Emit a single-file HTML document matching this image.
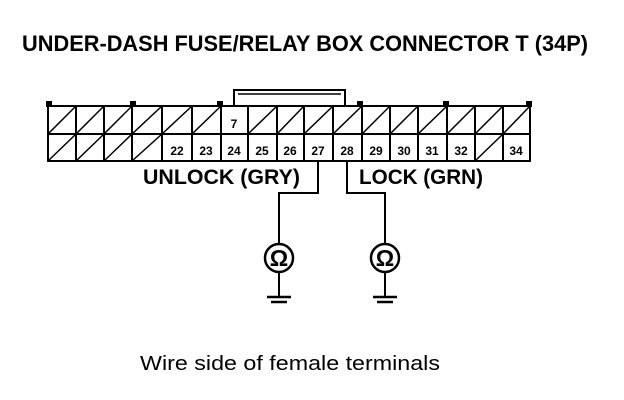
<!DOCTYPE html>
<html><head><meta charset="utf-8"><style>
html,body{margin:0;padding:0;background:#fff;}
svg{display:block;}
</style></head><body>
<svg width="624" height="400" viewBox="0 0 624 400" xmlns="http://www.w3.org/2000/svg">
<g font-family="Liberation Sans, Arial, sans-serif" fill="#000">
<text x="22" y="51" font-size="22" font-weight="bold" textLength="566" lengthAdjust="spacingAndGlyphs">UNDER-DASH FUSE/RELAY BOX CONNECTOR T (34P)</text>
<text x="143" y="184" font-size="21" font-weight="bold" textLength="157" lengthAdjust="spacingAndGlyphs">UNLOCK (GRY)</text>
<text x="359" y="184" font-size="21" font-weight="bold" textLength="124" lengthAdjust="spacingAndGlyphs">LOCK (GRN)</text>
<text x="140" y="370" font-size="20" textLength="300" lengthAdjust="spacingAndGlyphs">Wire side of female terminals</text>
</g>
<g stroke="#000" fill="none" stroke-width="2">
<path d="M234 106 V90 H345 V106"/>
<line x1="238" y1="94" x2="341" y2="94" stroke-width="1.5"/>
<rect x="47" y="102" width="4" height="4" fill="#000"/>
<rect x="131" y="102" width="4" height="4" fill="#000"/>
<rect x="218" y="102" width="4" height="4" fill="#000"/>
<rect x="358" y="102" width="4" height="4" fill="#000"/>
<rect x="444" y="102" width="4" height="4" fill="#000"/>
<rect x="527" y="102" width="4" height="4" fill="#000"/>
<rect x="48" y="106" width="482" height="55"/>
<line x1="48" y1="134" x2="530" y2="134"/>
<g>
<line x1="76" y1="106" x2="76" y2="161"/><line x1="104" y1="106" x2="104" y2="161"/>
<line x1="132" y1="106" x2="132" y2="161"/><line x1="162" y1="106" x2="162" y2="161"/>
<line x1="192" y1="106" x2="192" y2="161"/><line x1="221" y1="106" x2="221" y2="161"/>
<line x1="248" y1="106" x2="248" y2="161"/><line x1="277" y1="106" x2="277" y2="161"/>
<line x1="304" y1="106" x2="304" y2="161"/><line x1="333" y1="106" x2="333" y2="161"/>
<line x1="362" y1="106" x2="362" y2="161"/><line x1="390" y1="106" x2="390" y2="161"/>
<line x1="418" y1="106" x2="418" y2="161"/><line x1="447" y1="106" x2="447" y2="161"/>
<line x1="475" y1="106" x2="475" y2="161"/><line x1="503" y1="106" x2="503" y2="161"/>
</g>
<g stroke-width="1.5">
<line x1="48" y1="134" x2="76" y2="106"/><line x1="76" y1="134" x2="104" y2="106"/>
<line x1="104" y1="134" x2="132" y2="106"/><line x1="132" y1="134" x2="162" y2="106"/>
<line x1="162" y1="134" x2="192" y2="106"/><line x1="192" y1="134" x2="221" y2="106"/>
<line x1="248" y1="134" x2="277" y2="106"/><line x1="277" y1="134" x2="304" y2="106"/>
<line x1="304" y1="134" x2="333" y2="106"/><line x1="333" y1="134" x2="362" y2="106"/>
<line x1="362" y1="134" x2="390" y2="106"/><line x1="390" y1="134" x2="418" y2="106"/>
<line x1="418" y1="134" x2="447" y2="106"/><line x1="447" y1="134" x2="475" y2="106"/>
<line x1="475" y1="134" x2="503" y2="106"/><line x1="503" y1="134" x2="530" y2="106"/>
<line x1="48" y1="161" x2="76" y2="134"/><line x1="76" y1="161" x2="104" y2="134"/>
<line x1="104" y1="161" x2="132" y2="134"/><line x1="132" y1="161" x2="162" y2="134"/>
<line x1="475" y1="161" x2="503" y2="134"/>
</g>
<path d="M318 161 V193 H279 V244"/>
<path d="M347 161 V193 H385 V244"/>
<circle cx="279" cy="258" r="14" stroke-width="2.5"/>
<circle cx="385" cy="258" r="14" stroke-width="2.5"/>
<line x1="279" y1="272" x2="279" y2="297"/>
<line x1="385" y1="272" x2="385" y2="297"/>
<line x1="267" y1="297" x2="291" y2="297" stroke-width="2.5"/>
<line x1="271" y1="302" x2="287" y2="302" stroke-width="2.5"/>
<line x1="373" y1="297" x2="397" y2="297" stroke-width="2.5"/>
<line x1="377" y1="302" x2="393" y2="302" stroke-width="2.5"/>
</g>
<g font-family="Liberation Sans, Arial, sans-serif" font-size="12" font-weight="bold" text-anchor="middle" fill="#000">
<text x="234" y="128">7</text>
<text x="177" y="155">22</text><text x="206" y="155">23</text><text x="234" y="155">24</text>
<text x="262" y="155">25</text><text x="290" y="155">26</text><text x="318" y="155">27</text>
<text x="347" y="155">28</text><text x="376" y="155">29</text><text x="404" y="155">30</text>
<text x="432" y="155">31</text><text x="461" y="155">32</text><text x="516" y="155">34</text>
<text x="279" y="266" font-size="23" font-weight="bold">Ω</text>
<text x="385" y="266" font-size="23" font-weight="bold">Ω</text>
</g>
</svg>
</body></html>
